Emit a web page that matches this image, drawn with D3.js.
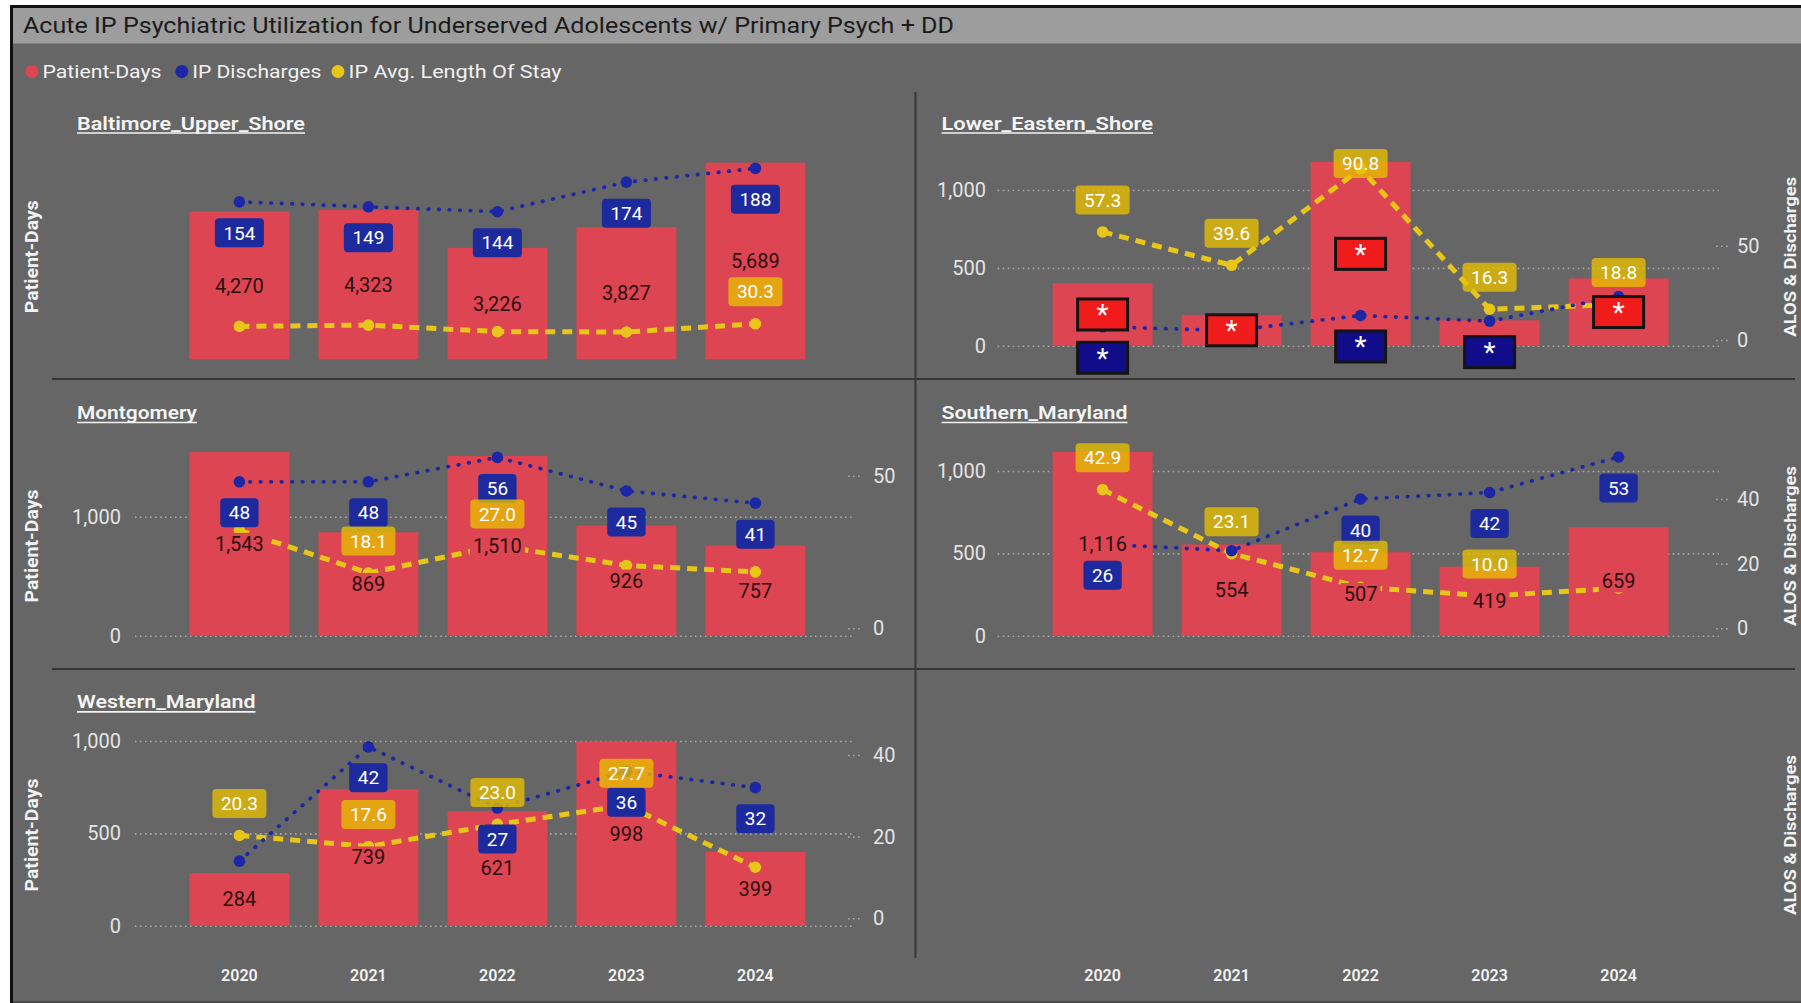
<!DOCTYPE html>
<html><head><meta charset="utf-8">
<script src="https://cdn.jsdelivr.net/npm/d3@7"></script>
<style>body{margin:0;background:#fff;} svg{display:block;}</style>
</head><body><svg id="chart" width="1801" height="1003"></svg>
<script>
// ---------------- DATA ----------------
const chartTitle = "Acute IP Psychiatric Utilization for Underserved Adolescents w/ Primary Psych + DD";
const legendLabels = ["Patient-Days", "IP Discharges", "IP Avg. Length Of Stay"];
const years = ["2020", "2021", "2022", "2023", "2024"];
const regionNames = ["Baltimore_Upper_Shore", "Lower_Eastern_Shore", "Montgomery", "Southern_Maryland", "Western_Maryland"];

const busPatientDays = [4270, 4323, 3226, 3827, 5689];
const busDischarges  = [154, 149, 144, 174, 188];
const busAlos        = [27.7, 29.0, 22.4, 22.0, 30.3];

const lesPatientDays = [401, 198, 1180, 163, 432];
const lesDischarges  = [7, 5, 13, 10, 23];
const lesAlos        = [57.3, 39.6, 90.8, 16.3, 18.8];

const montPatientDays = [1543, 869, 1510, 926, 757];
const montDischarges  = [48, 48, 56, 45, 41];
const montAlos        = [32.1, 18.1, 27.0, 20.6, 18.5];

const smPatientDays = [1116, 554, 507, 419, 659];
const smDischarges  = [26, 24, 40, 42, 53];
const smAlos        = [42.9, 23.1, 12.7, 10.0, 12.4];

const wmPatientDays = [284, 739, 621, 998, 399];
const wmDischarges  = [14, 42, 27, 36, 32];
const wmAlos        = [20.3, 17.6, 23.0, 27.7, 12.5];

const leftTicks1000 = [0, 1000];
const leftTicks500  = [0, 500, 1000];
const rightTicks50  = [0, 50];
const rightTicks40  = [0, 20, 40];
const suppressedLabel = "*";

// ---------------- STYLE / LAYOUT ----------------
const FONT = "Roboto, 'DejaVu Sans', sans-serif";
const C = {
  bg: "#666666", titleBar: "#9d9d9d", frame: "#111", sep: "#363636",
  bar: "#DC4551", blue: "#1c27a8", blueBox: "#1d2a9e", yellow: "#E8C619",
  yellowBox: "rgba(232,192,0,0.78)", pdText: "#2b0e10", text: "#f2f2f2", tick: "#e4e4e4",
  grid: "#a9a9a9", supRed: "#f01c1c", supNavy: "#100c8a"
};
const legendColors = [C.bar, C.blue, C.yellow];

const cols = [
  {band: [174.9, 819.9], leftTickX: 121, gridX0: 135, gridX1: 854, rightX: 848, rightPad: 13, titleX: 77},
  {band: [1038.1, 1683.1], leftTickX: 986, gridX0: 997.7, gridX1: 1719, rightX: 1716, rightPad: 9, titleX: 941.5}
];
const rows = [
  {titleY: 129.5, axisTitleY: 256.7},
  {titleY: 419, axisTitleY: 546},
  {titleY: 708.4, axisTitleY: 835}
];

const panels = [
  {name: regionNames[0], pd: busPatientDays, dis: busDischarges, alos: busAlos, col: 0, row: 0, titleLen: 228,
   pdDomain: [0, 6000], pdRange: [359.3, 151.9], secDomain: [0, 200], secRange: [353.7, 156.5],
   leftTicks: [], rightTicks: [], showDis: [1,1,1,1,1], showAlos: [0,0,0,0,1]},
  {name: regionNames[1], pd: lesPatientDays, dis: lesDischarges, alos: lesAlos, col: 1, row: 0, titleLen: 211.5,
   pdDomain: [0, 1000], pdRange: [345.7, 190], secDomain: [0, 50], secRange: [340, 245.7],
   leftTicks: leftTicks500, rightTicks: rightTicks50, suppressed: true,
   showPdBox: [1,1,1,0,1], showDisBox: [1,0,1,1,0], showAlos: [1,1,1,1,1]},
  {name: regionNames[2], pd: montPatientDays, dis: montDischarges, alos: montAlos, col: 0, row: 1, titleLen: 120,
   pdDomain: [0, 1000], pdRange: [635.7, 516.7], secDomain: [0, 50], secRange: [628.3, 475.7],
   leftTicks: leftTicks1000, rightTicks: rightTicks50, showDis: [1,1,1,1,1], showAlos: [0,1,1,0,0]},
  {name: regionNames[3], pd: smPatientDays, dis: smDischarges, alos: smAlos, col: 1, row: 1, titleLen: 186,
   pdDomain: [0, 1000], pdRange: [635.7, 471], secDomain: [0, 40], secRange: [628.3, 499],
   leftTicks: leftTicks500, rightTicks: rightTicks40, showDis: [1,0,1,1,1], showAlos: [1,1,1,1,0]},
  {name: regionNames[4], pd: wmPatientDays, dis: wmDischarges, alos: wmAlos, col: 0, row: 2, titleLen: 178.5,
   pdDomain: [0, 1000], pdRange: [925.7, 741], secDomain: [0, 40], secRange: [918.3, 755],
   leftTicks: leftTicks500, rightTicks: rightTicks40, showDis: [0,1,1,1,1], showAlos: [1,1,1,1,0]}
];

// ---------------- DRAW ----------------
const W = 1801, H = 1003;
const svg = d3.select("#chart").attr("font-family", FONT);

svg.append("rect").attr("width", W).attr("height", H).attr("fill", "#fff");
svg.append("rect").attr("x", 10).attr("y", 5).attr("width", W - 10).attr("height", H - 5).attr("fill", C.frame);
svg.append("rect").attr("x", 13).attr("y", 8).attr("width", W - 13).attr("height", H - 10).attr("fill", C.bg);
svg.append("rect").attr("x", 13).attr("y", 8).attr("width", W - 13).attr("height", 35.5).attr("fill", C.titleBar);
svg.append("rect").attr("x", 13).attr("y", H - 2).attr("width", W - 13).attr("height", 2).attr("fill", "#4c4c4c");

svg.append("text").attr("x", 23).attr("y", 33).attr("font-size", 22).attr("fill", "#1b1b1b")
  .attr("textLength", 931).attr("lengthAdjust", "spacingAndGlyphs").text(chartTitle);

// legend
const legendX = [32, 181.8, 338], legendLen = [119, 129, 213];
legendLabels.forEach((l, i) => {
  svg.append("circle").attr("cx", legendX[i]).attr("cy", 71.5).attr("r", 6.5).attr("fill", legendColors[i]);
  svg.append("text").attr("x", legendX[i] + 10.5).attr("y", 78).attr("font-size", 19).attr("fill", C.text)
    .attr("textLength", legendLen[i]).attr("lengthAdjust", "spacingAndGlyphs").text(l);
});

// separators
const sep = svg.append("g").attr("stroke", C.sep).attr("stroke-width", 2);
sep.append("line").attr("x1", 52).attr("x2", 1795).attr("y1", 379).attr("y2", 379);
sep.append("line").attr("x1", 52).attr("x2", 1795).attr("y1", 669).attr("y2", 669);
sep.append("line").attr("x1", 915.5).attr("x2", 915.5).attr("y1", 92).attr("y2", 958);

// axis titles
rows.forEach(r => {
  svg.append("text").attr("transform", `translate(37.7,${r.axisTitleY}) rotate(-90)`)
    .attr("text-anchor", "middle").attr("font-size", 18).attr("font-weight", 700).attr("fill", C.text)
    .attr("textLength", 113).attr("lengthAdjust", "spacingAndGlyphs").text("Patient-Days");
  svg.append("text").attr("transform", `translate(1796,${r.axisTitleY}) rotate(-90)`)
    .attr("text-anchor", "middle").attr("font-size", 16).attr("font-weight", 700).attr("fill", C.text)
    .attr("textLength", 160).attr("lengthAdjust", "spacingAndGlyphs").text("ALOS & Discharges");
});

// x axes (bottom row both columns)
cols.forEach(c => {
  const x = d3.scaleBand().domain(years).range(c.band).paddingInner(0.225).paddingOuter(0.1125);
  const ax = svg.append("g").attr("transform", "translate(0,969.5)")
    .call(d3.axisBottom(x).tickSize(0).tickPadding(0));
  ax.select(".domain").remove();
  ax.selectAll("text").attr("font-size", 16).attr("font-weight", 600).attr("fill", C.text).attr("font-family", FONT);
});

function boxLabel(g, cx, cy, txt, fill) {
  const t = g.append("text").attr("x", cx).attr("y", cy).attr("dy", "0.35em").attr("text-anchor", "middle")
    .attr("font-size", 19).attr("fill", "#fff").text(txt);
  const w = t.node().getComputedTextLength() + 17;
  g.insert("rect", () => t.node()).attr("x", cx - w / 2).attr("y", cy - 14.5).attr("width", w)
    .attr("height", 29).attr("rx", 4).attr("fill", fill);
}
function supBox(g, cx, cy, fill) {
  g.append("rect").attr("x", cx - 25).attr("y", cy - 15.5).attr("width", 50).attr("height", 31)
    .attr("fill", fill).attr("stroke", "#141414").attr("stroke-width", 3);
  g.append("text").attr("x", cx).attr("y", cy + 10).attr("text-anchor", "middle").attr("font-size", 28)
    .attr("fill", "#fff").text(suppressedLabel);
}

panels.forEach(p => {
  const c = cols[p.col], r = rows[p.row];
  const g = svg.append("g");
  const x = d3.scaleBand().domain(years).range(c.band).paddingInner(0.225).paddingOuter(0.1125);
  const cxOf = i => x(years[i]) + x.bandwidth() / 2;
  const yP = d3.scaleLinear().domain(p.pdDomain).range(p.pdRange);
  const yS = d3.scaleLinear().domain(p.secDomain).range(p.secRange);

  // title
  g.append("text").attr("x", c.titleX).attr("y", r.titleY).attr("font-size", 19).attr("font-weight", 600)
    .attr("fill", "#f4f4f4").attr("textLength", p.titleLen).attr("lengthAdjust", "spacingAndGlyphs").text(p.name);
  g.append("line").attr("x1", c.titleX).attr("x2", c.titleX + p.titleLen).attr("y1", r.titleY + 3.5)
    .attr("y2", r.titleY + 3.5).attr("stroke", "#f4f4f4").attr("stroke-width", 1.6);

  // grid + left axis
  if (p.leftTicks.length) {
    const grid = g.append("g").attr("transform", `translate(${c.gridX0},0)`)
      .call(d3.axisRight(yP).tickValues(p.leftTicks).tickSize(c.gridX1 - c.gridX0).tickFormat(""));
    grid.select(".domain").remove();
    grid.selectAll("line").attr("stroke", C.grid).attr("stroke-width", 1.6).attr("stroke-dasharray", "1.6 3.4");
    const la = g.append("g").attr("transform", `translate(${c.leftTickX},0)`)
      .call(d3.axisLeft(yP).tickValues(p.leftTicks).tickSize(0).tickPadding(0).tickFormat(d3.format(",")));
    la.select(".domain").remove();
    la.selectAll("text").attr("font-size", 20).attr("fill", C.tick).attr("font-family", FONT);
  }
  if (p.rightTicks.length) {
    const ra = g.append("g").attr("transform", `translate(${c.rightX},0)`)
      .call(d3.axisRight(yS).tickValues(p.rightTicks).tickSize(12).tickPadding(c.rightPad));
    ra.select(".domain").remove();
    ra.selectAll("line").attr("stroke", C.grid).attr("stroke-width", 1.6).attr("stroke-dasharray", "1.6 3.4");
    ra.selectAll("text").attr("font-size", 20).attr("fill", C.tick).attr("font-family", FONT);
  }

  // bars
  g.selectAll("rect.bar").data(p.pd).join("rect").attr("class", "bar")
    .attr("x", (d, i) => x(years[i])).attr("width", x.bandwidth())
    .attr("y", d => yP(d)).attr("height", d => yP(0) - yP(d)).attr("fill", C.bar);

  // lines
  const lineA = d3.line().x((d, i) => cxOf(i)).y(d => yS(d));
  g.append("path").attr("d", lineA(p.alos)).attr("fill", "none").attr("stroke", C.yellow)
    .attr("stroke-width", 5).attr("stroke-dasharray", "10 7");
  g.append("path").attr("d", lineA(p.dis)).attr("fill", "none").attr("stroke", C.blue)
    .attr("stroke-width", 3.8).attr("stroke-linecap", "round").attr("stroke-dasharray", "0.5 10");
  g.selectAll("circle.a").data(p.alos).join("circle").attr("class", "a")
    .attr("cx", (d, i) => cxOf(i)).attr("cy", d => yS(d)).attr("r", 5.8).attr("fill", C.yellow);
  g.selectAll("circle.b").data(p.dis).join("circle").attr("class", "b")
    .attr("cx", (d, i) => cxOf(i)).attr("cy", d => yS(d)).attr("r", 5.8).attr("fill", C.blue);

  const labelMinY = r.titleY + 34;
  if (p.suppressed) {
    p.pd.forEach((d, i) => { if (p.showPdBox[i]) supBox(g, cxOf(i), (yP(d) + yP(0)) / 2, C.supRed); });
    p.dis.forEach((d, i) => { if (p.showDisBox[i]) supBox(g, cxOf(i), yS(d) + 31, C.supNavy); });
  } else {
    // patient-day labels (with bar-coloured background)
    p.pd.forEach((d, i) => {
      const cy = (yP(d) + yP(0)) / 2;
      const t = g.append("text").attr("x", cxOf(i)).attr("y", cy).attr("dy", "0.35em").attr("text-anchor", "middle")
        .attr("font-size", 20).attr("fill", C.pdText).text(d3.format(",")(d));
      const w = t.node().getComputedTextLength() + 6;
      g.insert("rect", () => t.node()).attr("x", cxOf(i) - w / 2).attr("y", cy - 11).attr("width", w)
        .attr("height", 22).attr("fill", C.bar);
    });
    p.dis.forEach((d, i) => { if (p.showDis[i]) boxLabel(g, cxOf(i), yS(d) + 31, d3.format("d")(d), C.blueBox); });
  }
  p.alos.forEach((d, i) => {
    if (p.showAlos[i]) boxLabel(g, cxOf(i), Math.max(yS(d) - 32, labelMinY), d3.format(".1f")(d), C.yellowBox);
  });
});
</script>
</body></html>
